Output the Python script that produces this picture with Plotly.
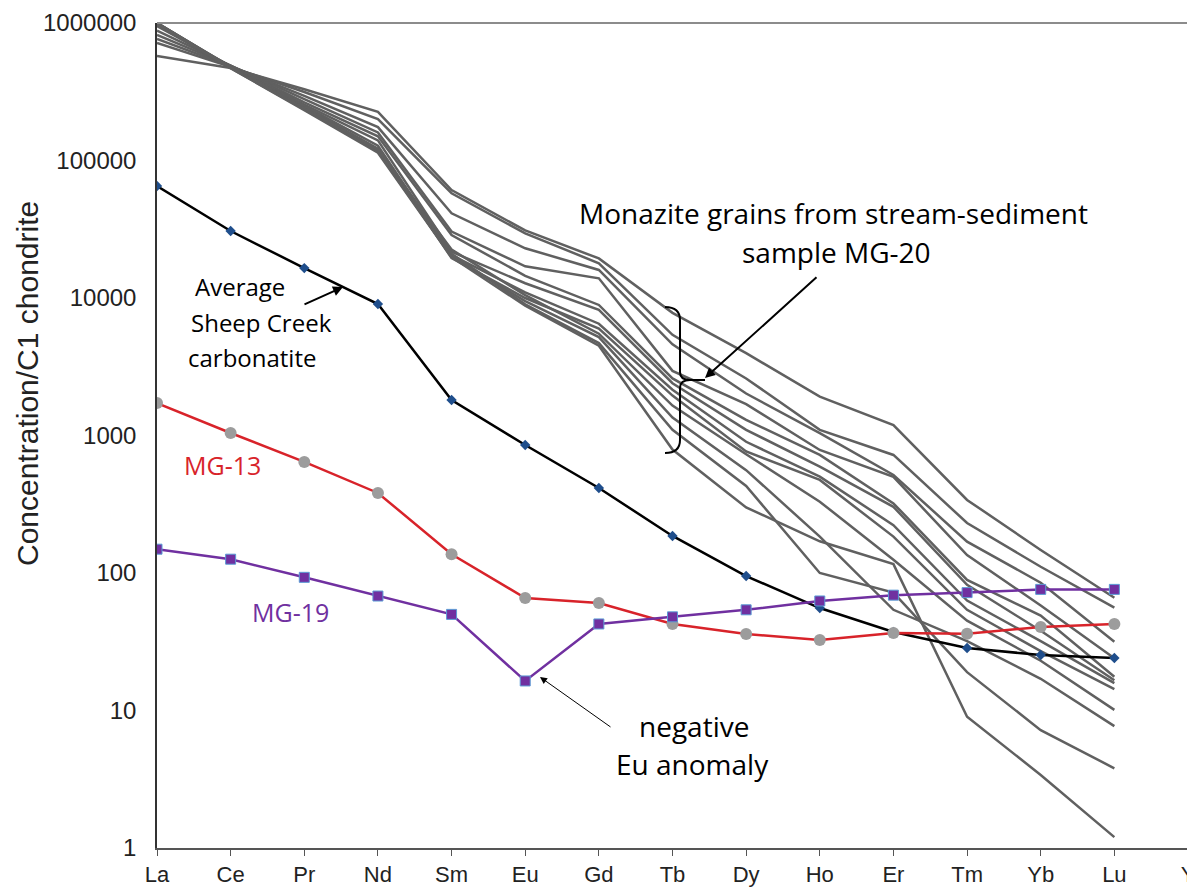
import plotly.graph_objects as go

# elementos (eixo x) - Y fica sem dados
elements = ["La", "Ce", "Pr", "Nd", "Sm", "Eu", "Gd", "Tb", "Dy", "Ho", "Er", "Tm", "Yb", "Lu", "Y"]
ree = elements[:14]

# graos de monazita MG-20 (cinza)
g01 = [575000, 470000, 330000, 226000, 61000, 31000, 19400, 7800, 3970, 1915, 1190, 340, 147, 66]
g02 = [716000, 480000, 315000, 200000, 57800, 29500, 17900, 5400, 2600, 1100, 722, 231, 111, 56]
g03 = [765000, 485000, 295000, 175000, 41300, 23000, 16000, 4600, 2020, 1040, 516, 169, 85, 31.6]
g04 = [818000, 490000, 280000, 160000, 30400, 17000, 13900, 2950, 1690, 785, 500, 135, 58, 24]
g05 = [879000, 490000, 265000, 150000, 28700, 14500, 8900, 2600, 1300, 722, 321, 89, 49, 17.6]
g06 = [950000, 485000, 255000, 140000, 21700, 12800, 8200, 2400, 1100, 593, 303, 82, 38, 16.6]
g07 = [1000000, 480000, 250000, 128000, 20500, 11000, 6500, 2150, 900, 502, 223, 63, 32, 15.8]
g08 = [1000000, 475000, 245000, 122000, 19500, 10000, 6000, 1950, 765, 475, 184, 54, 27, 14.3]
g09 = [1000000, 480000, 240000, 118000, 22500, 10500, 5500, 1650, 730, 330, 125, 45, 23, 10.1]
g10 = [980000, 470000, 235000, 116000, 20000, 9500, 5200, 1350, 560, 184, 54, 32, 17, 7.7]
g11 = [1000000, 475000, 238000, 120000, 21000, 9000, 4700, 1100, 430, 100, 72, 19, 7.2, 3.8]
g12 = [990000, 470000, 232000, 114000, 19800, 8800, 4500, 790, 300, 170, 116, 9, 3.4, 1.2]
monazite = [g01, g02, g03, g04, g05, g06, g07, g08, g09, g10, g11, g12]

sheep_creek = [65300, 30700, 16500, 9040, 1810, 853, 415, 186, 95, 55.6, 37.2, 28.5, 25.3, 24.1]
mg13 = [1720, 1043, 642, 382, 137, 65.8, 60.5, 42.6, 36, 32.6, 36.6, 36.2, 40.5, 42.6]
mg19 = [149, 126, 93, 68, 50, 16.4, 42.6, 48, 54, 62.6, 69, 72, 76, 76]

xs = list(range(len(ree)))

fig = go.Figure()

for g in monazite:
    fig.add_trace(go.Scatter(x=xs, y=g, mode="lines", line=dict(color="#606060", width=2.5),
                             showlegend=False, hoverinfo="skip"))

fig.add_trace(go.Scatter(x=xs, y=sheep_creek, mode="lines+markers", line=dict(color="black", width=2.5),
                         marker=dict(symbol="diamond", size=8, color="#1f4e8c"), showlegend=False))
fig.add_trace(go.Scatter(x=xs, y=mg13, mode="lines+markers", line=dict(color="#d8232a", width=2.5),
                         marker=dict(symbol="circle", size=12, color="#9c9c9c"), showlegend=False))
fig.add_trace(go.Scatter(x=xs, y=mg19, mode="lines+markers", line=dict(color="#7030a0", width=2.5),
                         marker=dict(symbol="square", size=10, color="#7030a0",
                                     line=dict(color="#5b9bd5", width=1)), showlegend=False))

# area do grafico em pixels da pagina (a pagina tem 8px de margem no body)
L, R, T, B = 157, 1188, 23, 848
OFF = 8


def px(x):
    return (x - L) / (R - L)


def py(y):
    return (B - y) / (B - T)


fig.update_layout(
    width=1195, height=888,
    margin=dict(l=L - OFF, r=1195 - R + OFF, t=T - OFF, b=888 - B + OFF, autoexpand=False),
    plot_bgcolor="white", paper_bgcolor="white",
    font=dict(family="Liberation Sans, Arial", color="#222"),
)
fig.update_xaxes(range=[0, 14], tickvals=list(range(len(elements))), ticktext=elements,
                 showgrid=False, zeroline=False, showline=True, linecolor="#555", linewidth=1.5,
                 ticks="outside", ticklen=6, tickcolor="#555", tickfont=dict(size=22, color="#222"),
                 ticklabeloverflow="allow", automargin=False)
fig.update_yaxes(type="log", range=[0, 6], tickvals=[1, 10, 100, 1000, 10000, 100000, 1000000],
                 ticktext=["1", "10", "100", "1000", "10000", "100000", "1000000"],
                 showgrid=False, zeroline=False, showline=True, linecolor="#333", linewidth=1.5,
                 ticks="", ticklabelstandoff=14, tickfont=dict(size=24, color="#222"),
                 ticklabeloverflow="allow", automargin=False)

# titulo do eixo y
fig.add_annotation(text="Concentration/C1 chondrite", x=px(27), y=py(384), xref="paper", yref="paper",
                   textangle=-90, showarrow=False, xanchor="center", yanchor="middle",
                   font=dict(family="Liberation Sans, Arial", size=30, color="#222"))

# bordas superior e direita
fig.add_shape(type="line", xref="paper", yref="paper", x0=0, x1=1, y0=1, y1=1, line=dict(color="#8c8c8c", width=2))
fig.add_shape(type="line", xref="paper", yref="paper", x0=1, x1=1, y0=0, y1=1, line=dict(color="#8c8c8c", width=2))

# chave (bracket)
pts = [("M", 665, 307), ("Q", 680, 307, 680, 320), ("L", 680, 372), ("Q", 680, 380, 690, 380), ("L", 705, 380),
       ("M", 690, 380), ("Q", 680, 380, 680, 388), ("L", 680, 440), ("Q", 680, 453, 665, 453)]
path = ""
for p in pts:
    coords = p[1:]
    pairs = [f"{px(coords[i]):.5f},{py(coords[i + 1]):.5f}" for i in range(0, len(coords), 2)]
    path += p[0] + " " + " ".join(pairs) + " "
fig.add_shape(type="path", xref="paper", yref="paper", path=path, line=dict(color="black", width=2))

txt = "Open Sans, Lato, sans-serif"
labels = [
    ("Monazite grains from stream-sediment", 833, 213, 28, "black"),
    ("sample MG-20", 836, 252, 28, "black"),
    ("Average", 240, 287, 24, "black"),
    ("Sheep Creek", 261, 322, 24, "black"),
    ("carbonatite", 252, 357, 24, "black"),
    ("MG-13", 222, 465, 25, "#d8232a"),
    ("MG-19", 290, 612, 25, "#7030a0"),
    ("negative", 694, 726, 28, "black"),
    ("Eu anomaly", 692, 764, 28, "black"),
]
for t, x, y, s, c in labels:
    fig.add_annotation(text=t, x=px(x), y=py(y), xref="paper", yref="paper", showarrow=False,
                       xanchor="center", yanchor="middle", font=dict(family=txt, size=s, color=c))

# setas
arrows = [
    (343, 287, -40, 18, 2, 1.0),
    (705, 378, 113, -102, 2, 1.0),
    (540, 677, 72, 51, 1, 1.4),
]
for hx, hy, ax, ay, w, sz in arrows:
    fig.add_annotation(x=px(hx), y=py(hy), xref="paper", yref="paper", ax=ax, ay=ay, text="",
                       showarrow=True, arrowhead=2, arrowsize=sz, arrowwidth=w, arrowcolor="black")

fig.write_html("out.html")
